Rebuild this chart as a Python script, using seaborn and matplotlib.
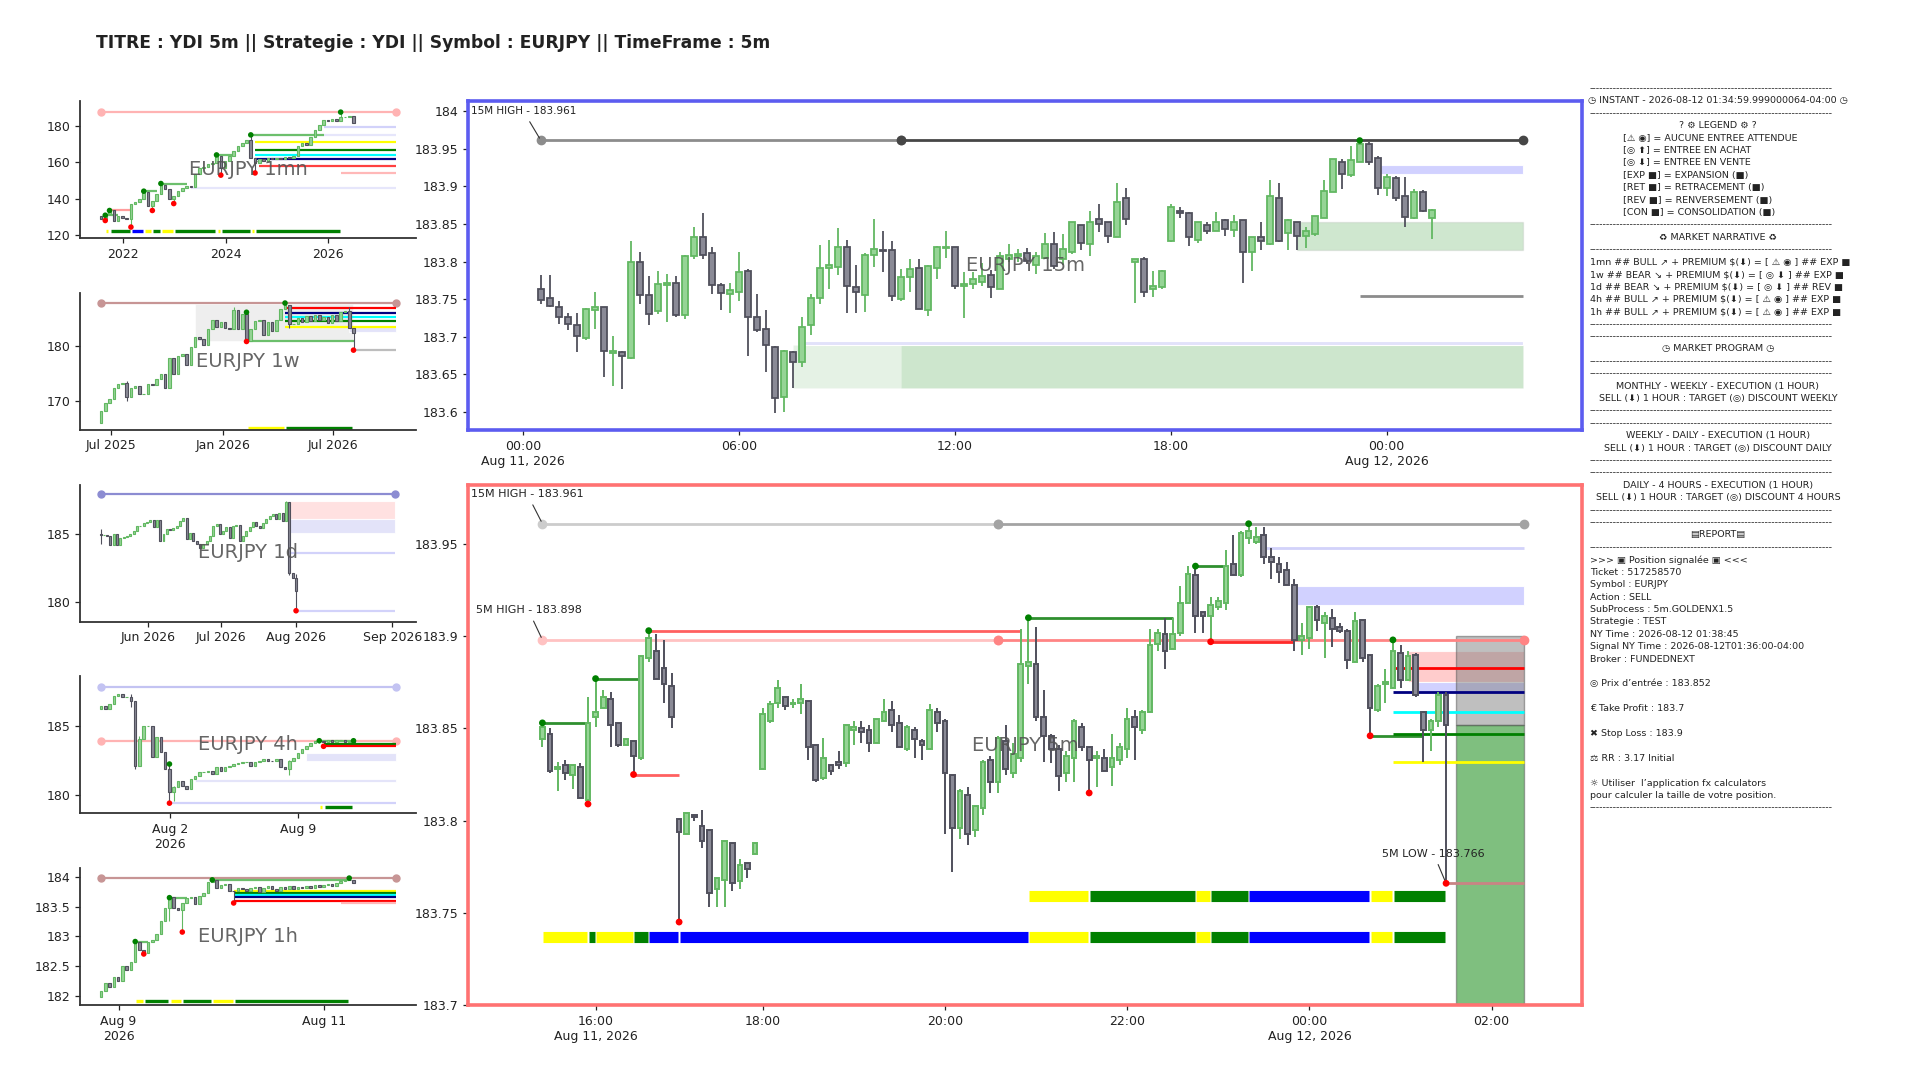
import numpy as np
import seaborn as sns
import matplotlib.pyplot as plt
from matplotlib.patches import Rectangle
from matplotlib.ticker import FuncFormatter

# ------------------------------------------------------------------ data
# EURJPY 5m bars, Aug 11 15:25 -> Aug 12 01:35 (x = bar number)
o5 = [183.844, 183.847, 183.828, 183.830, 183.825, 183.829, 183.811, 183.856, 183.861, 183.866,
      183.853, 183.841, 183.843, 183.834, 183.888, 183.892, 183.883, 183.873, 183.801, 183.793,
      183.803, 183.797, 183.795, 183.763, 183.768, 183.788, 183.767, 183.777, 183.782, 183.828,
      183.854, 183.864, 183.867, 183.863, 183.864, 183.865, 183.841, 183.823, 183.830, 183.832,
      183.831, 183.849, 183.850, 183.849, 183.842, 183.854, 183.860, 183.853, 183.839, 183.849,
      183.843, 183.839, 183.859, 183.854, 183.825, 183.796, 183.814, 183.795, 183.807, 183.833,
      183.821, 183.843, 183.826, 183.834, 183.884, 183.885, 183.856, 183.846, 183.839, 183.826,
      183.834, 183.851, 183.840, 183.834, 183.834, 183.829, 183.833, 183.839, 183.856, 183.849,
      183.859, 183.896, 183.901, 183.893, 183.902, 183.918, 183.933, 183.913, 183.911, 183.916,
      183.918, 183.939, 183.933, 183.953, 183.951, 183.955, 183.943, 183.939, 183.936, 183.928,
      183.898, 183.899, 183.916, 183.907, 183.910, 183.905, 183.903, 183.886, 183.909, 183.890,
      183.860, 183.874, 183.872, 183.891, 183.876, 183.890, 183.859, 183.849, 183.854, 183.868]
h5 = [183.853, 183.850, 183.832, 183.833, 183.830, 183.831, 183.867, 183.877, 183.871, 183.870,
      183.853, 183.844, 183.843, 183.889, 183.903, 183.901, 183.898, 183.880, 183.801, 183.804,
      183.803, 183.806, 183.795, 183.769, 183.789, 183.788, 183.779, 183.777, 183.788, 183.861,
      183.865, 183.876, 183.867, 183.866, 183.874, 183.865, 183.841, 183.845, 183.830, 183.838,
      183.852, 183.854, 183.854, 183.852, 183.855, 183.866, 183.865, 183.857, 183.852, 183.851,
      183.844, 183.863, 183.861, 183.855, 183.825, 183.817, 183.818, 183.808, 183.833, 183.835,
      183.846, 183.852, 183.842, 183.904, 183.910, 183.905, 183.871, 183.847, 183.841, 183.838,
      183.855, 183.853, 183.840, 183.838, 183.839, 183.847, 183.842, 183.861, 183.860, 183.860,
      183.904, 183.904, 183.910, 183.910, 183.927, 183.938, 183.938, 183.913, 183.921, 183.921,
      183.947, 183.955, 183.957, 183.961, 183.959, 183.959, 183.948, 183.943, 183.940, 183.931,
      183.907, 183.916, 183.917, 183.913, 183.915, 183.907, 183.904, 183.913, 183.909, 183.890,
      183.874, 183.882, 183.898, 183.895, 183.892, 183.891, 183.859, 183.855, 183.870, 183.870]
l5 = [183.840, 183.826, 183.816, 183.822, 183.817, 183.812, 183.809, 183.851, 183.861, 183.840,
      183.840, 183.841, 183.825, 183.833, 183.886, 183.877, 183.864, 183.850, 183.745, 183.793,
      183.800, 183.785, 183.753, 183.753, 183.753, 183.762, 183.763, 183.769, 183.782, 183.828,
      183.853, 183.861, 183.860, 183.861, 183.858, 183.833, 183.821, 183.822, 183.825, 183.828,
      183.829, 183.841, 183.842, 183.837, 183.842, 183.854, 183.848, 183.840, 183.838, 183.834,
      183.833, 183.839, 183.848, 183.793, 183.772, 183.790, 183.787, 183.791, 183.803, 183.815,
      183.815, 183.825, 183.823, 183.832, 183.874, 183.854, 183.832, 183.831, 183.816, 183.821,
      183.821, 183.838, 183.815, 183.818, 183.827, 183.819, 183.830, 183.834, 183.833, 183.847,
      183.859, 183.892, 183.882, 183.893, 183.900, 183.918, 183.902, 183.902, 183.897, 183.914,
      183.914, 183.933, 183.932, 183.950, 183.950, 183.939, 183.931, 183.929, 183.928, 183.892,
      183.890, 183.893, 183.903, 183.888, 183.894, 183.902, 183.882, 183.886, 183.886, 183.846,
      183.859, 183.864, 183.872, 183.872, 183.876, 183.867, 183.832, 183.838, 183.851, 183.766]
c5 = [183.851, 183.827, 183.829, 183.826, 183.830, 183.812, 183.853, 183.859, 183.867, 183.852,
      183.841, 183.844, 183.835, 183.889, 183.899, 183.877, 183.874, 183.856, 183.794, 183.804,
      183.802, 183.789, 183.761, 183.769, 183.789, 183.766, 183.776, 183.774, 183.788, 183.858,
      183.863, 183.872, 183.862, 183.864, 183.866, 183.840, 183.822, 183.834, 183.827, 183.830,
      183.852, 183.851, 183.848, 183.842, 183.855, 183.859, 183.852, 183.840, 183.851, 183.844,
      183.841, 183.860, 183.853, 183.826, 183.796, 183.816, 183.793, 183.808, 183.832, 183.821,
      183.845, 183.828, 183.836, 183.885, 183.886, 183.856, 183.846, 183.839, 183.824, 183.835,
      183.854, 183.840, 183.833, 183.835, 183.827, 183.834, 183.840, 183.855, 183.851, 183.859,
      183.895, 183.902, 183.892, 183.901, 183.918, 183.934, 183.911, 183.911, 183.917, 183.919,
      183.938, 183.933, 183.956, 183.957, 183.954, 183.943, 183.940, 183.935, 183.928, 183.898,
      183.900, 183.916, 183.909, 183.911, 183.904, 183.903, 183.887, 183.908, 183.888, 183.861,
      183.873, 183.875, 183.892, 183.876, 183.889, 183.868, 183.849, 183.854, 183.868, 183.852]
ticks_5m = [7, 29, 53, 77, 101, 125]
labels_5m = ['16:00\nAug 11, 2026', '18:00', '20:00', '22:00', '00:00\nAug 12, 2026', '02:00']

# EURJPY 15m bars, Aug 11 00:30 -> Aug 12 01:15
o15 = [183.763, 183.751, 183.739, 183.726, 183.716, 183.699, 183.735, 183.739, 183.679, 183.680,
       183.672, 183.799, 183.755, 183.734, 183.769, 183.771, 183.729, 183.808, 183.833, 183.811,
       183.769, 183.757, 183.760, 183.787, 183.726, 183.710, 183.687, 183.620, 183.680, 183.666,
       183.715, 183.751, 183.791, 183.793, 183.820, 183.766, 183.756, 183.809, 183.816, 183.815,
       183.750, 183.779, 183.791, 183.736, 183.791, 183.818, 183.820, 183.767, 183.770, 183.773,
       183.782, 183.763, 183.804, 183.807, 183.812, 183.795, 183.805, 183.824, 183.804, 183.813,
       183.848, 183.824, 183.857, 183.852, 183.832, 183.884, 183.800, 183.804, 183.763, 183.766,
       183.827, 183.867, 183.865, 183.829, 183.849, 183.841, 183.855, 183.842, 183.855, 183.813,
       183.833, 183.824, 183.885, 183.838, 183.852, 183.834, 183.837, 183.858, 183.893, 183.933,
       183.915, 183.932, 183.956, 183.938, 183.898, 183.911, 183.887, 183.858, 183.893, 183.858]
h15 = [183.782, 183.782, 183.747, 183.731, 183.732, 183.738, 183.760, 183.739, 183.701, 183.681,
       183.827, 183.813, 183.781, 183.787, 183.783, 183.781, 183.809, 183.846, 183.864, 183.820,
       183.771, 183.772, 183.813, 183.790, 183.757, 183.735, 183.688, 183.682, 183.681, 183.726,
       183.757, 183.822, 183.828, 183.844, 183.828, 183.796, 183.811, 183.856, 183.841, 183.827,
       183.790, 183.804, 183.803, 183.795, 183.821, 183.840, 183.820, 183.786, 183.786, 183.798,
       183.789, 183.813, 183.824, 183.817, 183.818, 183.813, 183.838, 183.839, 183.836, 183.852,
       183.849, 183.867, 183.877, 183.852, 183.904, 183.898, 183.804, 183.806, 183.788, 183.789,
       183.876, 183.873, 183.866, 183.853, 183.853, 183.866, 183.857, 183.862, 183.855, 183.833,
       183.852, 183.909, 183.905, 183.856, 183.852, 183.846, 183.860, 183.909, 183.937, 183.937,
       183.954, 183.961, 183.959, 183.940, 183.917, 183.914, 183.913, 183.897, 183.895, 183.870]
l15 = [183.743, 183.740, 183.717, 183.709, 183.680, 183.696, 183.710, 183.646, 183.634, 183.631,
       183.670, 183.743, 183.715, 183.730, 183.719, 183.726, 183.724, 183.804, 183.804, 183.757,
       183.736, 183.732, 183.748, 183.674, 183.706, 183.653, 183.598, 183.600, 183.632, 183.660,
       183.702, 183.743, 183.764, 183.782, 183.731, 183.732, 183.733, 183.793, 183.786, 183.747,
       183.747, 183.759, 183.737, 183.728, 183.777, 183.805, 183.763, 183.725, 183.764, 183.767,
       183.751, 183.763, 183.800, 183.799, 183.797, 183.783, 183.804, 183.790, 183.795, 183.810,
       183.816, 183.808, 183.839, 183.825, 183.832, 183.849, 183.745, 183.753, 183.753, 183.763,
       183.826, 183.858, 183.821, 183.825, 183.837, 183.841, 183.834, 183.832, 183.771, 183.787,
       183.815, 183.822, 183.826, 183.816, 183.815, 183.818, 183.834, 183.858, 183.893, 183.897,
       183.912, 183.932, 183.929, 183.889, 183.887, 183.881, 183.846, 183.857, 183.866, 183.830]
c15 = [183.749, 183.741, 183.726, 183.717, 183.701, 183.737, 183.740, 183.681, 183.681, 183.674,
       183.800, 183.755, 183.730, 183.770, 183.772, 183.729, 183.808, 183.832, 183.809, 183.769,
       183.758, 183.762, 183.786, 183.726, 183.709, 183.689, 183.619, 183.681, 183.666, 183.713,
       183.751, 183.791, 183.795, 183.819, 183.767, 183.759, 183.809, 183.817, 183.814, 183.754,
       183.780, 183.790, 183.737, 183.794, 183.820, 183.820, 183.768, 183.770, 183.777, 183.781,
       183.766, 183.808, 183.809, 183.810, 183.801, 183.807, 183.824, 183.794, 183.817, 183.852,
       183.825, 183.853, 183.850, 183.834, 183.879, 183.856, 183.804, 183.760, 183.767, 183.788,
       183.873, 183.865, 183.833, 183.852, 183.840, 183.852, 183.843, 183.853, 183.813, 183.832,
       183.827, 183.887, 183.827, 183.855, 183.834, 183.841, 183.860, 183.894, 183.936, 183.916,
       183.935, 183.956, 183.933, 183.898, 183.912, 183.884, 183.859, 183.893, 183.867, 183.869]
ticks_15m = [-2, 22, 46, 70, 94]
labels_15m = ['00:00\nAug 11, 2026', '06:00', '12:00', '18:00', '00:00\nAug 12, 2026']

# higher timeframes: closes (the first open is given, later opens = previous close)
# plus the few wick extremes that stand out: (bar, low, high)
open0_1mn = 130.5
close_1mn = [129.0, 131.4, 133.6, 128.1, 130.8, 129.4, 128.7, 137.2, 138.1, 139.9,
             143.5, 136.3, 139.0, 142.6, 147.5, 145.3, 139.9, 141.7, 144.4, 145.7,
             147.1, 146.7, 153.4, 157.1, 157.6, 158.9, 159.8, 163.4, 157.1, 160.7,
             163.4, 166.1, 168.8, 170.6, 172.4, 162.5, 159.8, 161.6, 160.9, 162.5,
             161.6, 162.5, 161.6, 162.8, 162.3, 163.4, 168.8, 170.6, 169.7, 174.2,
             177.8, 180.5, 183.3, 182.5, 183.6, 182.9, 184.7, 185.1, 185.4, 181.4]
wicks_1mn = [(1, 128.1, 131.4), (2, 131.4, 133.6), (7, 124.5, 137.2), (10, 139.9, 144.2),
             (12, 133.6, 139.0), (14, 142.6, 148.4), (17, 137.4, 141.7), (27, 159.8, 164.1),
             (28, 153.0, 163.4), (35, 162.5, 175.1), (36, 154.2, 162.5), (56, 182.9, 187.6)]
ticks_1mn, labels_1mn = [5.1, 29.1, 53.1], ['2022', '2024', '2026']

open0_1w = 165.8
close_1w = [168.14, 169.57, 170.37, 172.36, 172.98, 173.29, 170.62, 172.36, 172.67, 171.24,
            171.24, 172.98, 172.86, 173.91, 174.84, 172.36, 177.76, 174.97, 178.26, 178.57,
            176.58, 179.81, 181.80, 181.36, 180.31, 183.23, 184.78, 183.66, 184.47, 183.41,
            183.23, 186.64, 183.23, 185.90, 180.93, 183.23, 184.66, 184.78, 182.17, 184.47,
            182.92, 184.78, 186.95, 187.57, 184.16, 184.16, 185.21, 184.47, 185.53, 184.66,
            185.71, 184.78, 185.40, 184.28, 185.71, 184.66, 186.33, 186.52, 183.41, 182.42]
wicks_1w = [(6, 170.0, 173.6), (31, 183.23, 187.2), (34, 180.9, 186.3), (43, 186.95, 188.0),
            (44, 183.4, 187.6), (58, 183.41, 187.3), (59, 179.3, 183.41)]
ticks_1w, labels_1w = [2.3, 28.6, 54.3], ['Jul 2025', 'Jan 2026', 'Jul 2026']

open0_1d = 185.05
close_1d = [184.93, 184.93, 184.88, 184.19, 185.05, 184.19, 184.76, 184.83, 184.88, 185.00,
            185.24, 185.61, 185.61, 185.81, 185.91, 186.05, 185.56, 186.05, 184.51, 185.00,
            185.37, 185.32, 185.49, 185.61, 185.98, 186.22, 184.63, 185.12, 184.51, 184.26,
            184.02, 184.26, 184.51, 184.88, 185.61, 185.74, 185.00, 185.24, 185.56, 184.76,
            185.61, 185.66, 184.51, 184.88, 185.24, 185.56, 185.91, 185.61, 185.49, 185.86,
            186.10, 186.35, 186.47, 186.10, 186.59, 185.98, 187.38, 182.18, 181.81, 180.83]
wicks_1d = [(0, 184.3, 185.4), (56, 185.98, 187.45), (57, 182.0, 187.38), (59, 179.39, 182.1)]
ticks_1d, labels_1d = [14.4, 36.4, 59, 88.1], ['Jun 2026', 'Jul 2026', 'Aug 2026', 'Sep 2026']

open0_4h = 186.27
close_4h = [186.51, 186.27, 186.63, 187.24, 187.37, 187.17, 187.17, 186.88, 182.12, 184.07,
            185.05, 185.05, 182.73, 184.20, 183.10, 181.88, 180.17, 180.54, 181.03, 180.66,
            180.42, 181.15, 181.39, 181.64, 181.64, 181.76, 181.51, 182.00, 181.71, 182.05,
            182.12, 182.24, 182.29, 182.37, 182.37, 182.12, 182.37, 182.49, 182.61, 182.49,
            182.44, 182.61, 182.00, 181.88, 182.44, 182.68, 183.02, 183.34, 183.59, 183.76,
            183.90, 183.95, 183.83, 184.00, 183.86, 183.98, 184.01, 183.86, 183.95, 183.88]
wicks_4h = [(7, 186.4, 187.37), (8, 181.9, 186.88), (9, 182.6, 184.3), (16, 179.37, 182.24),
            (17, 179.5, 180.6), (44, 181.4, 182.5), (51, 183.76, 183.95)]
ticks_4h, labels_4h = [16.1, 46.1], ['Aug 2\n2026', 'Aug 9']

open0_1h = 181.98
close_1h = [182.08, 182.21, 182.15, 182.32, 182.25, 182.49, 182.43, 182.56, 182.91, 182.77,
            182.71, 182.91, 182.94, 183.04, 183.26, 183.48, 183.66, 183.48, 183.45, 183.56,
            183.64, 183.66, 183.54, 183.67, 183.73, 183.91, 183.94, 183.81, 183.86, 183.88,
            183.77, 183.76, 183.81, 183.79, 183.76, 183.81, 183.83, 183.75, 183.81, 183.85,
            183.79, 183.76, 183.83, 183.80, 183.84, 183.80, 183.83, 183.81, 183.84, 183.82,
            183.86, 183.83, 183.87, 183.88, 183.85, 183.90, 183.93, 183.95, 183.94, 183.90]
wicks_1h = [(8, 182.56, 182.91), (10, 182.70, 182.77), (16, 183.26, 183.66), (19, 183.07, 183.56),
            (26, 183.91, 183.95), (31, 183.56, 183.77), (58, 183.94, 183.98)]
ticks_1h, labels_1h = [4.1, 52.1], ['Aug 9\n2026', 'Aug 11']

# key levels: (kind, first bar, last bar, price)
lv_5m = [('hi15_old', 0, 60, 183.961), ('hi15', 60, 129.2, 183.961),
         ('hi5_old', 0, 60, 183.898), ('hi5', 60, 129.2, 183.898),
         ('swing_dn', 14, 63, 183.903), ('swing_dn', 12, 18, 183.825), ('swing_dn_strong', 88, 99, 183.897),
         ('swing_up', 0, 6, 183.853), ('swing_up', 7, 13, 183.877), ('swing_up', 64, 83, 183.910),
         ('swing_up', 86, 90, 183.938), ('swing_up', 109, 116, 183.846),
         ('fvg', 95, 129.2, 183.948),
         ('red', 112, 129.2, 183.883), ('navy', 112, 129.2, 183.870), ('cyan', 112, 129.2, 183.859),
         ('green', 112, 129.2, 183.847), ('yellow', 112, 129.2, 183.832),
         ('low5', 119, 129.2, 183.766)]
zones_5m = [('fvg_box', 99, 129.2, 183.917, 183.927), ('pink_box', 114, 129.2, 183.875, 183.892),
            ('fvg_box', 115, 129.2, 183.870, 183.875),
            ('sl_box', 120.3, 129.2, 183.852, 183.900), ('tp_box', 120.3, 129.2, 183.700, 183.852)]
up_5m = [(0, 183.853), (7, 183.877), (14, 183.903), (64, 183.910), (86, 183.938), (93, 183.961), (112, 183.898)]
dn_5m = [(6, 183.809), (12, 183.825), (18, 183.745), (72, 183.815), (88, 183.897), (109, 183.846), (119, 183.766)]
state_5m_a = ([0, 6, 7, 12, 14, 18, 64, 72, 86, 88, 93, 109, 112, 119],
              ['RET', 'EXP', 'RET', 'EXP', 'REV', 'REV', 'RET', 'EXP', 'RET', 'EXP', 'REV', 'RET', 'EXP'], 183.737)
state_5m_b = ([64, 72, 86, 88, 93, 109, 112, 119],
              ['RET', 'EXP', 'RET', 'EXP', 'REV', 'RET', 'EXP'], 183.759)

lv_15m = [('hi15_mid', 0, 40, 183.961), ('hi15_dark', 40, 109.1, 183.961), ('gray', 91, 109.1, 183.754)]
zones_15m = [('fvg_box', 93, 109.1, 183.917, 183.928), ('green_zone', 84, 109.1, 183.815, 183.853),
             ('green_soft', 28, 109.1, 183.632, 183.689), ('green_soft', 40, 109.1, 183.632, 183.689),
             ('lav_strip', 29, 109.1, 183.689, 183.695)]
up_15m = [(91, 183.961)]

lv_1mn = [('ext_pink', 0, 69, 187.6), ('fvg', 52, 69, 179.3), ('fvg_soft', 35, 69, 175.1),
          ('fvg_soft', 21, 69, 145.8), ('yellow', 36, 69, 171.0), ('green', 36, 69, 167.0),
          ('cyan', 36, 69, 164.1), ('navy', 36, 69, 161.6), ('red_soft', 37, 69, 158.1),
          ('pink', 56, 69, 154.2), ('swing_up_soft', 10, 13, 144.2), ('swing_up_soft', 14, 20, 148.4),
          ('swing_up_soft', 27, 31, 164.1), ('swing_up_soft', 35, 52, 175.1), ('swing_up_soft', 1, 4, 131.0),
          ('swing_dn_soft', 2, 7, 133.6)]
zones_1mn = []
up_1mn = [(1, 131.0), (2, 133.6), (10, 144.2), (14, 148.4), (27, 164.1), (35, 175.1), (56, 187.6)]
dn_1mn = [(1, 128.1), (7, 124.5), (12, 133.6), (17, 137.4), (28, 153.0), (36, 154.2)]
state_1mn = ([1, 2, 7, 10, 12, 14, 17, 27, 28, 35, 36, 56],
             ['RET', 'EXP', 'REV', 'RET', 'EXP', 'RET', 'EXP', 'RET', 'EXP', 'RET', 'EXP'], 122.4)

lv_1w = [('ext_rose', 0, 69, 188.0), ('red', 43, 69, 187.0), ('navy', 43, 69, 186.2),
         ('cyan', 43, 69, 185.5), ('green', 43, 69, 184.7), ('yellow', 43, 69, 183.5),
         ('swing_up_soft', 34, 59, 180.9), ('gray_soft', 59, 69, 179.3)]
zones_1w = [('range_box', 22, 58.8, 180.9, 187.8), ('fvg_box_soft', 58, 69, 182.7, 183.5)]
up_1w = [(34, 186.3), (43, 188.0)]
dn_1w = [(34, 180.9), (59, 179.3)]
state_1w = ([34, 43, 59], ['RET', 'EXP'], 165.0)

lv_1d = [('ext_blue', 0, 89, 187.92), ('fvg', 57, 89, 183.65), ('fvg', 59, 89, 179.39)]
zones_1d = [('pink_box_soft', 56, 89, 186.15, 187.45), ('fvg_box_soft', 57, 89, 185.12, 186.15)]
up_1d = []
dn_1d = [(59, 179.39)]
state_1d = None

lv_4h = [('ext_lblue', 0, 69, 187.90), ('ext_pink', 0, 69, 183.95), ('fvg', 16, 69, 179.37),
         ('swing_up_soft', 51, 59, 183.95), ('green', 52, 69, 183.68), ('red', 52, 69, 183.56)]
zones_4h = [('fvg_box_soft', 48, 69, 182.49, 183.02), ('fvg_box_soft', 22, 69, 180.90, 181.15)]
up_4h = [(16, 182.24), (51, 183.95), (59, 183.95)]
dn_4h = [(16, 179.37), (52, 183.54)]
state_4h = ([51, 52, 59], ['RET', 'EXP'], 179.1)

lv_1h = [('ext_rose', 0, 69, 183.98), ('yellow', 31, 69, 183.77), ('green', 31, 69, 183.73),
         ('cyan', 31, 69, 183.70), ('navy', 31, 69, 183.66), ('red', 31, 69, 183.60),
         ('pink', 56, 69, 183.56), ('swing_up_soft', 8, 11, 182.91), ('swing_up_soft', 16, 20, 183.65),
         ('swing_up_soft', 26, 58, 183.95)]
zones_1h = []
up_1h = [(8, 182.91), (16, 183.65), (26, 183.95), (58, 183.98)]
dn_1h = [(10, 182.70), (19, 183.07), (31, 183.56)]
state_1h = ([8, 10, 16, 19, 26, 31, 58], ['RET', 'EXP', 'RET', 'EXP', 'RET', 'EXP'], 181.90)

DASH = '-' * 72
report = [
    (DASH, 'L'), ('◷ INSTANT - 2026-08-12 01:34:59.999000064-04:00 ◷', 'C'), (DASH, 'L'),
    ('? ⚙ LEGEND ⚙ ?', 'C'),
    ('[⚠ ◉] = AUCUNE ENTREE ATTENDUE', 'I'), ('[◎ ⬆] = ENTREE EN ACHAT', 'I'),
    ('[◎ ⬇] = ENTREE EN VENTE', 'I'), ('[EXP ■] = EXPANSION (■)', 'I'),
    ('[RET ■] = RETRACEMENT (■)', 'I'), ('[REV ■] = RENVERSEMENT (■)', 'I'),
    ('[CON ■] = CONSOLIDATION (■)', 'I'),
    (DASH, 'L'), ('♻ MARKET NARRATIVE ♻', 'C'), (DASH, 'L'),
    ('1mn ## BULL ↗ + PREMIUM \\$(⬇) = [ ⚠ ◉ ] ## EXP ■', 'L'),
    ('1w ## BEAR ↘ + PREMIUM \\$(⬇) = [ ◎ ⬇ ] ## EXP ■', 'L'),
    ('1d ## BEAR ↘ + PREMIUM \\$(⬇) = [ ◎ ⬇ ] ## REV ■', 'L'),
    ('4h ## BULL ↗ + PREMIUM \\$(⬇) = [ ⚠ ◉ ] ## EXP ■', 'L'),
    ('1h ## BULL ↗ + PREMIUM \\$(⬇) = [ ⚠ ◉ ] ## EXP ■', 'L'),
    (DASH, 'L'), (DASH, 'L'), ('◷ MARKET PROGRAM ◷', 'C'), (DASH, 'L'), (DASH, 'L'),
    ('MONTHLY - WEEKLY - EXECUTION (1 HOUR)', 'C'),
    ('SELL (⬇) 1 HOUR : TARGET (◎) DISCOUNT WEEKLY', 'C'),
    (DASH, 'L'), (DASH, 'L'),
    ('WEEKLY - DAILY - EXECUTION (1 HOUR)', 'C'),
    ('SELL (⬇) 1 HOUR : TARGET (◎) DISCOUNT DAILY', 'C'),
    (DASH, 'L'), (DASH, 'L'),
    ('DAILY - 4 HOURS - EXECUTION (1 HOUR)', 'C'),
    ('SELL (⬇) 1 HOUR : TARGET (◎) DISCOUNT 4 HOURS', 'C'),
    (DASH, 'L'), (DASH, 'L'), ('▤REPORT▤', 'C'), (DASH, 'L'),
    ('>>> ▣ Position signalée ▣ <<<', 'L'), ('Ticket : 517258570', 'L'),
    ('Symbol : EURJPY', 'L'), ('Action : SELL', 'L'), ('SubProcess : 5m.GOLDENX1.5', 'L'),
    ('Strategie : TEST', 'L'), ('NY Time : 2026-08-12 01:38:45', 'L'),
    ('Signal NY Time : 2026-08-12T01:36:00-04:00', 'L'), ('Broker : FUNDEDNEXT', 'L'),
    ('', 'L'), ('◎ Prix d’entrée : 183.852', 'L'), ('', 'L'),
    ('€ Take Profit : 183.7', 'L'), ('', 'L'), ('✖ Stop Loss : 183.9', 'L'), ('', 'L'),
    ('⚖ RR : 3.17 Initial', 'L'), ('', 'L'),
    ('☼ Utiliser  l’application fx calculators', 'L'),
    ('pour calculer la taille de votre position.', 'L'), (DASH, 'L'),
]

# ------------------------------------------------------------------ style
sns.set_theme(style='ticks', context='paper')
plt.rcParams['font.family'] = ['DejaVu Sans']

UP_EDGE, UP_FILL = '#62b862', '#96d496'
DN_EDGE, DN_FILL = '#50505c', '#8a8a96'
STATE_COLORS = {'EXP': '#008000', 'RET': '#ffff00', 'REV': '#0000ff', 'CON': '#ff8c00'}
LINE_COLORS = {
    'ext_pink': '#ffb3b3', 'ext_rose': '#c79595', 'ext_blue': '#8c8cd2', 'ext_lblue': '#c3c3f2',
    'hi15': '#a3a3a3', 'hi15_old': '#cccccc', 'hi15_mid': '#8c8c8c', 'hi15_dark': '#464646',
    'hi5': '#ff8484', 'hi5_old': '#ffc2c2', 'low5': '#c98484',
    'swing_up': '#2f8f2f', 'swing_up_soft': '#6cbf6c', 'swing_dn': '#ff6060',
    'swing_dn_strong': '#ff2a2a', 'swing_dn_soft': '#ff9c9c',
    'fvg': '#d2d2fa', 'fvg_soft': '#e6e6fb', 'gray': '#8c8c8c', 'gray_soft': '#bdbdbd',
    'pink': '#ffb8b8', 'red_soft': '#ff4040',
    'red': '#ff0000', 'navy': '#000080', 'cyan': '#00ffff', 'green': '#008000', 'yellow': '#ffff00'}
MARKED = {'ext_pink', 'ext_rose', 'ext_blue', 'ext_lblue', 'hi15', 'hi15_old', 'hi15_mid',
          'hi15_dark', 'hi5', 'hi5_old'}
ZONE_STYLE = {
    'fvg_box': dict(facecolor='#ccccff', alpha=0.9),
    'fvg_box_soft': dict(facecolor='#dcdcf8', alpha=0.8),
    'pink_box': dict(facecolor='#ffc4c4', alpha=0.85),
    'pink_box_soft': dict(facecolor='#ffdede', alpha=0.9),
    'range_box': dict(facecolor='#e4e4e4', alpha=0.6),
    'green_zone': dict(facecolor='green', alpha=0.19, edgecolor='#999999', lw=1),
    'green_soft': dict(facecolor='green', alpha=0.1),
    'lav_strip': dict(facecolor='#e2e2fa'),
    'sl_box': dict(facecolor='gray', alpha=0.5, edgecolor='#555555', lw=1),
    'tp_box': dict(facecolor='green', alpha=0.5, edgecolor='#555555', lw=1),
}

W, H = 1920, 1080
fig = plt.figure(figsize=(19.2, 10.8), dpi=100)


def add_ax(x0, y0, x1, y1):
    return fig.add_axes([x0 / W, 1 - y1 / H, (x1 - x0) / W, (y1 - y0) / H])


def draw_candles(ax, o, h, l, c, width, wick_lw, edge_lw):
    o, h, l, c = (np.asarray(v, float) for v in (o, h, l, c))
    x = np.arange(len(c))
    up = c >= o
    edge = np.where(up, UP_EDGE, DN_EDGE)
    fill = np.where(up, UP_FILL, DN_FILL)
    ax.vlines(x, l, h, colors=edge, lw=wick_lw, zorder=3)
    ax.bar(x, np.abs(c - o), bottom=np.minimum(o, c), width=width, color=fill,
           edgecolor=edge, linewidth=edge_lw, zorder=4)


def draw_levels(ax, levels, lw, ms):
    for kind, x0, x1, y in levels:
        ax.plot([x0, x1], [y, y], color=LINE_COLORS[kind], lw=lw, solid_capstyle='butt',
                marker='o' if kind in MARKED else None, ms=ms, zorder=2.5)


def draw_zones(ax, zones):
    for kind, x0, x1, y0, y1 in zones:
        ax.add_patch(Rectangle((x0, y0), x1 - x0, y1 - y0, zorder=1.5, **ZONE_STYLE[kind]))


def draw_states(ax, state, lw, gap):
    if state is None:
        return
    edges, codes, y = state
    for a, b, code in zip(edges[:-1], edges[1:], codes):
        ax.hlines(y, a + gap, b - gap, colors=STATE_COLORS[code], lw=lw, zorder=2)


def draw_dots(ax, pts, color, size):
    if pts:
        sns.scatterplot(x=[p[0] for p in pts], y=[p[1] for p in pts], ax=ax, color=color,
                        s=size, edgecolor='none', legend=False, zorder=6)


def finish(ax, label, ticks, labels, fs):
    ax.set_xticks(ticks, labels)
    ax.yaxis.set_major_formatter(FuncFormatter(lambda v, _: f'{v:g}'))
    ax.tick_params(labelsize=fs, colors='#222222', length=3.5, width=0.9)
    ax.set_xlabel('')
    ax.set_ylabel('')
    ax.text(0.5, 0.5, label, transform=ax.transAxes, ha='center', va='center',
            fontsize=14, color='#555555', alpha=0.9, zorder=8)


# ------------------------------------------------------------------ small panels
small = [
    ('EURJPY 1mn', open0_1mn, close_1mn, wicks_1mn, lv_1mn, zones_1mn, up_1mn, dn_1mn, state_1mn,
     ticks_1mn, labels_1mn, [120, 140, 160, 180], (118.5, 193.7), (-4.9, 73.6)),
    ('EURJPY 1w', open0_1w, close_1w, wicks_1w, lv_1w, zones_1w, up_1w, dn_1w, state_1w,
     ticks_1w, labels_1w, [170, 180], (164.6, 189.9), (-4.9, 73.6)),
    ('EURJPY 1d', open0_1d, close_1d, wicks_1d, lv_1d, zones_1d, up_1d, dn_1d, state_1d,
     ticks_1d, labels_1d, [180, 185], (178.6, 188.65), (-6.2, 95.2)),
    ('EURJPY 4h', open0_4h, close_4h, wicks_4h, lv_4h, zones_4h, up_4h, dn_4h, state_4h,
     ticks_4h, labels_4h, [180, 185], (178.63, 188.68), (-4.9, 73.6)),
    ('EURJPY 1h', open0_1h, close_1h, wicks_1h, lv_1h, zones_1h, up_1h, dn_1h, state_1h,
     ticks_1h, labels_1h, [182, 182.5, 183, 183.5, 184], (181.84, 184.15), (-4.9, 73.6)),
]
tops = [101, 292.75, 484.5, 676.25, 868]
for top, (label, op0, closes, wicks, lv, zones, ups, dns, state, tk, tl, ytk, ylim, xlim) in zip(tops, small):
    ax = add_ax(80, top, 416, top + 137)
    opens = [op0] + closes[:-1]
    highs = np.maximum(opens, closes)
    lows = np.minimum(opens, closes)
    for bar, lo, hi in wicks:
        lows[bar] = min(lows[bar], lo)
        highs[bar] = max(highs[bar], hi)
    draw_zones(ax, zones)
    draw_levels(ax, lv, lw=1.6, ms=5)
    draw_states(ax, state, lw=2.4, gap=0.25)
    draw_candles(ax, opens, highs, lows, closes, width=0.6, wick_lw=0.8, edge_lw=0.8)
    draw_dots(ax, ups, '#008000', 16)
    draw_dots(ax, dns, '#ff0000', 16)
    ax.set_xlim(*xlim)
    ax.set_ylim(*ylim)
    ax.set_yticks(ytk)
    finish(ax, label, tk, tl, 9)
    sns.despine(ax=ax)
    for s in ('left', 'bottom'):
        ax.spines[s].set_color('#333333')
        ax.spines[s].set_linewidth(1.3)

# ------------------------------------------------------------------ 15m panel
ax15 = add_ax(468, 101, 1582, 430)
draw_zones(ax15, zones_15m)
draw_levels(ax15, lv_15m, lw=2.0, ms=6)
draw_candles(ax15, o15, h15, l15, c15, width=0.62, wick_lw=1.3, edge_lw=1.3)
draw_dots(ax15, up_15m, '#008000', 22)
ax15.annotate('15M HIGH - 183.961', xy=(0, 183.961), xytext=(-7.8, 184.0),
              fontsize=7.5, color='#222222', ha='left', va='center',
              arrowprops=dict(arrowstyle='-', color='#333333', lw=0.8))
ax15.set_xlim(-8.1, 115.7)
ax15.set_ylim(183.576, 184.0135)
ax15.set_yticks([183.6, 183.65, 183.7, 183.75, 183.8, 183.85, 183.9, 183.95, 184.0])
finish(ax15, 'EURJPY 15m', ticks_15m, labels_15m, 9)
for s in ax15.spines.values():
    s.set_color('#5c5cf0')
    s.set_linewidth(2.6)

# ------------------------------------------------------------------ 5m panel
ax5 = add_ax(468, 485, 1582, 1005)
draw_zones(ax5, zones_5m)
draw_states(ax5, state_5m_a, lw=8, gap=0.1)
draw_states(ax5, state_5m_b, lw=8, gap=0.1)
draw_levels(ax5, lv_5m, lw=2.0, ms=6)
draw_candles(ax5, o5, h5, l5, c5, width=0.62, wick_lw=1.4, edge_lw=1.4)
draw_dots(ax5, up_5m, '#008000', 24)
draw_dots(ax5, dn_5m, '#ff0000', 24)
ax5.annotate('15M HIGH - 183.961', xy=(0, 183.961), xytext=(-9.4, 183.977), fontsize=8,
             color='#222222', ha='left', va='center',
             arrowprops=dict(arrowstyle='-', color='#333333', lw=0.8))
ax5.annotate('5M HIGH - 183.898', xy=(0, 183.898), xytext=(-8.8, 183.914), fontsize=8,
             color='#222222', ha='left', va='center',
             arrowprops=dict(arrowstyle='-', color='#333333', lw=0.8))
ax5.annotate('5M LOW - 183.766', xy=(119, 183.766), xytext=(110.6, 183.782), fontsize=8,
             color='#222222', ha='left', va='center',
             arrowprops=dict(arrowstyle='-', color='#333333', lw=0.8))
ax5.set_xlim(-9.8, 136.9)
ax5.set_ylim(183.7, 183.982)
ax5.set_yticks([183.7, 183.75, 183.8, 183.85, 183.9, 183.95])
finish(ax5, 'EURJPY 5m', ticks_5m, labels_5m, 9)
for s in ax5.spines.values():
    s.set_color('#ff7272')
    s.set_linewidth(2.6)

# ------------------------------------------------------------------ titles and report
fig.text(96 / W, 1 - 43 / H, 'TITRE : YDI 5m || Strategie : YDI || Symbol : EURJPY || TimeFrame : 5m',
         fontsize=12.3, fontweight='bold', color='#222222', ha='left', va='center')

x_pos = {'L': (1590, 'left'), 'I': (1623, 'left'), 'C': (1718, 'center')}
for i, (txt, mode) in enumerate(report):
    if not txt:
        continue
    x, ha = x_pos[mode]
    fig.text(x / W, 1 - (88.6 + 12.4 * i) / H, txt, fontsize=6.8, color='#222222',
             ha=ha, va='center')

fig.savefig('out.png', dpi=100)
